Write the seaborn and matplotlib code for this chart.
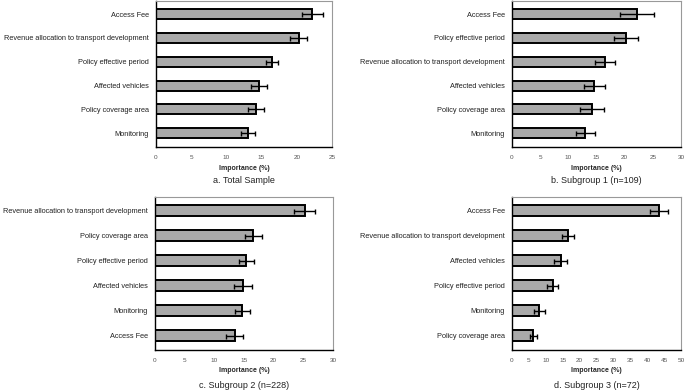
import numpy as np
import pandas as pd
import matplotlib
matplotlib.use("Agg")
import matplotlib.pyplot as plt
import seaborn as sns

# panel a: total sample
cats_a = ["Access Fee", "Revenue allocation to transport development", "Policy effective period",
          "Affected vehicles", "Policy coverage area", "Monitoring"]
vals_a = [22.2, 20.3, 16.5, 14.6, 14.2, 13.1]
err_a = [1.5, 1.2, 0.85, 1.1, 1.15, 1.0]

# panel b: subgroup 1
cats_b = ["Access Fee", "Policy effective period", "Revenue allocation to transport development",
          "Affected vehicles", "Policy coverage area", "Monitoring"]
vals_b = [22.2, 20.2, 16.5, 14.6, 14.2, 13.0]
err_b = [3.0, 2.1, 1.75, 1.9, 2.2, 1.7]

# panel c: subgroup 2
cats_c = ["Revenue allocation to transport development", "Policy coverage area", "Policy effective period",
          "Affected vehicles", "Monitoring", "Access Fee"]
vals_c = [25.2, 16.6, 15.4, 14.8, 14.7, 13.4]
err_c = [1.8, 1.45, 1.3, 1.55, 1.3, 1.5]

# panel d: subgroup 3
cats_d = ["Access Fee", "Revenue allocation to transport development", "Affected vehicles",
          "Policy effective period", "Monitoring", "Policy coverage area"]
vals_d = [43.4, 16.6, 14.4, 12.1, 8.1, 6.25]
err_d = [2.7, 1.75, 1.85, 1.65, 1.65, 1.05]

titles = ["a. Total Sample", "b. Subgroup 1 (n=109)", "c. Subgroup 2 (n=228)", "d. Subgroup 3 (n=72)"]
xmax = [25, 30, 30, 50]

sns.set_style("white")
plt.rcParams["font.family"] = ["Liberation Sans", "DejaVu Sans"]

fig = plt.figure(figsize=(6.85, 3.9), dpi=100)
rects = [
    [156 / 685, 1 - 147 / 390, 176 / 685, 146 / 390],
    [512 / 685, 1 - 147 / 390, 169 / 685, 146 / 390],
    [155 / 685, 1 - 350 / 390, 178 / 685, 153 / 390],
    [512 / 685, 1 - 350 / 390, 169 / 685, 153 / 390],
]
panels = [(cats_a, vals_a, err_a), (cats_b, vals_b, err_b),
          (cats_c, vals_c, err_c), (cats_d, vals_d, err_d)]

for i, (cats, vals, errs) in enumerate(panels):
    ax = fig.add_axes(rects[i])
    df = pd.DataFrame({"factor": cats, "imp": vals})
    sns.barplot(data=df, x="imp", y="factor", ax=ax, color="#a9a9a9", saturation=1,
                width=0.42, edgecolor="black", linewidth=1.4, errorbar=None)
    ax.errorbar(vals, np.arange(len(cats)), xerr=errs, fmt="none", ecolor="black",
                elinewidth=1.0, capsize=1.8, capthick=1.0)
    ax.set_xlim(0, xmax[i])
    ax.set_ylim(len(cats) - 0.42, -0.55)
    ax.set_xticks(np.arange(0, xmax[i] + 1, 5))
    ax.tick_params(axis="x", labelsize=4.6, colors="#555555", length=0, pad=6)
    ax.tick_params(axis="y", labelsize=5.35, colors="#222222", length=0, pad=5)
    ax.set_ylabel("")
    ax.set_xlabel("Importance (%)", fontsize=5, fontweight="bold", labelpad=3)
    for side in ["top", "right"]:
        ax.spines[side].set_color("#999999")
        ax.spines[side].set_linewidth(0.8)
    for side in ["left", "bottom"]:
        ax.spines[side].set_color("black")
        ax.spines[side].set_linewidth(1.0)
    ax.text(0.5, -0.2, titles[i], transform=ax.transAxes, ha="center", va="top",
            fontsize=6.5, color="#222222")

fig.savefig("out.png", dpi=100)
